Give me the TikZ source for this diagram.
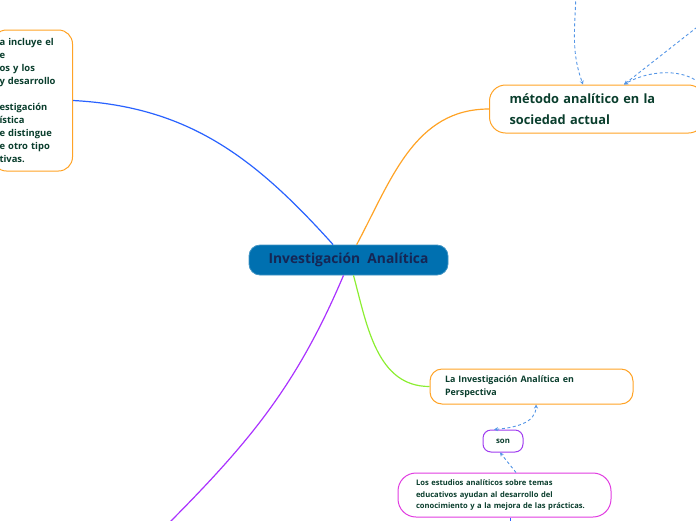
\documentclass[tikz,border=0pt]{standalone}
\usepackage{fontspec}
\setmainfont{Open Sans}
\usetikzlibrary{arrows.meta,positioning}
\definecolor{topicblue}{RGB}{0,112,176}
\definecolor{navytext}{RGB}{22,38,84}
\definecolor{darkgreen}{RGB}{10,62,45}
\definecolor{linkblue}{RGB}{41,98,255}
\definecolor{branchorange}{RGB}{255,163,38}
\definecolor{branchgreen}{RGB}{140,238,50}
\definecolor{branchpurple}{RGB}{170,50,255}
\definecolor{sonviolet}{RGB}{160,60,240}
\definecolor{studymagenta}{RGB}{225,60,225}
\definecolor{dashblue}{RGB}{85,150,230}

\begin{document}
\begin{tikzpicture}[x=1pt, y=1pt, >=Stealth,
      central/.style={draw=topicblue!75!white, fill=topicblue, line width=0.8pt,
                      rounded corners=11pt, minimum width=199pt, minimum height=30pt,
                      text=navytext, font=\fontsize{13.8}{16}\selectfont\bfseries},
      idea/.style={draw=branchorange, line width=1pt, fill=white, align=left,
                   text=darkgreen},
      branch/.style={line width=1.2pt},
      link/.style={dashblue, line width=0.9pt, dash pattern=on 3pt off 2.5pt,
                   arrows={-Stealth[length=4pt, width=4pt]}},
      bothlink/.style={link,
                   arrows={Stealth[length=4pt, width=4pt]-Stealth[length=4pt, width=4pt]}}
    ]
    \useasboundingbox (0,0) rectangle (696,-520);

    \node[central] (inv) at (348.5,-260) {Investigación\ \ Analítica};
    \node[idea, anchor=west, rounded corners=16pt, text width=175pt, inner xsep=20pt,
          minimum height=48pt, font=\fontsize{12.8}{21}\selectfont\bfseries]
          (method) at (489,-109) {método analítico en la\\sociedad actual};
    \node[idea, anchor=east, rounded corners=14pt, text width=66pt, inner xsep=7pt,
          minimum height=141pt, font=\fontsize{9.4}{13}\selectfont\bfseries]
          (scope) at (73,-100.5)
          {a incluye el\\e\\os y los\\y desarrollo\\[13pt]estigación\\ística\\e distingue\\e otro tipo\\tivas.};
    \node[idea, rounded corners=12pt, text width=173pt, inner xsep=15pt,
          minimum height=35pt, font=\fontsize{8.9}{13}\selectfont\bfseries]
          (persp) at (531.5,-386.5) {La Investigación Analítica en\\Perspectiva};
    \node[idea, draw=sonviolet, rounded corners=8pt, minimum width=40pt,
          minimum height=22pt, align=center, font=\fontsize{7.8}{9}\selectfont\bfseries]
          (son) at (503,-441) {son};
    \node[idea, draw=studymagenta, rounded corners=18pt, text width=177pt,
          inner xsep=18pt, minimum height=44pt, font=\fontsize{7.6}{11.7}\selectfont\bfseries,
          below=20pt of son, xshift=1.5pt] (studies)
          {Los estudios analíticos sobre temas\\educativos ayudan al desarrollo del\\conocimiento y a la mejora de las prácticas.};

    % branches from the central topic
    \coordinate (purpleend) at (160,-532);
    \draw[branch, linkblue] (scope.east) to[out=-3, in=132] (inv.135);
    \draw[branch, branchorange] (inv.62) to[out=62, in=180] (method.west);
    \draw[branch, branchgreen] (inv.-72) to[out=-75, in=180] (persp.west);
    \draw[branch, branchpurple] (inv.-108) to[out=-113, in=45] (purpleend);

    % dashed relations
    \coordinate (topfeed) at (576,15);
    \coordinate (rightfeed) at (710,-17);
    \coordinate (sidefeed) at (712,-100);
    \draw[link] (topfeed) to[out=-90, in=110] ([xshift=-14pt]method.north);
    \draw[link] (rightfeed) -- ([xshift=27pt]method.north);
    \draw[link] (sidefeed) to[out=110, in=30] ([xshift=27pt]method.north);
    \draw[bothlink] ([xshift=-9pt]son.north)
      to[out=5, in=-90] ([xshift=4.5pt]persp.south);
    \draw[link] ([xshift=11.5pt]studies.north) -- ([xshift=-3pt]son.south);

    \coordinate (bottomfeed) at (510,-532);
    \draw[linkblue, line width=1pt] ([xshift=5.5pt]studies.south) -- (bottomfeed);
  \end{tikzpicture}
\end{document}
